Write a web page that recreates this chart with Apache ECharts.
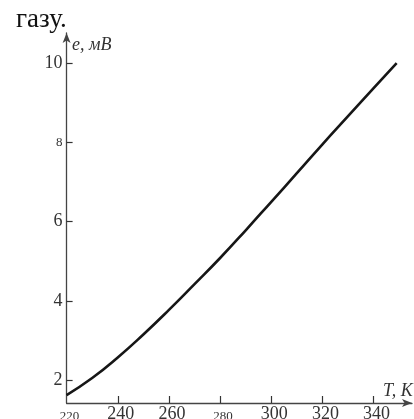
<!DOCTYPE html>
<html>
<head>
<meta charset="utf-8">
<script src="https://cdn.jsdelivr.net/npm/echarts@6/dist/echarts.min.js"></script>
<style>
html,body{margin:0;padding:0;background:#fff;}
#c{width:414px;height:419px;}
</style>
</head>
<body>
<div id="c"></div>
<script>
// Data
const temperatureK = [220, 230, 240, 250, 260, 270, 280, 290, 300, 310, 320, 330, 340, 349];
const emfMillivolt = [1.62, 2.05, 2.57, 3.15, 3.77, 4.42, 5.08, 5.78, 6.50, 7.22, 7.95, 8.66, 9.37, 10.0];
const xTickLabels = [220, 240, 260, 280, 300, 320, 340];
const xTickMarks = [240, 260, 280, 300, 320, 340];
const yTickLabels = [2, 4, 6, 8, 10];
const xAxisName = 'T, K';
const yAxisName = 'e, мВ';
const captionText = 'газу.';

const smallX = [220, 280];
const smallY = [8];
const serif = '"Liberation Serif", "DejaVu Serif", serif';

const chart = echarts.init(document.getElementById('c'), null, {renderer: 'canvas'});
chart.setOption({
  animation: false,
  backgroundColor: '#fff',
  grid: {left: 66.6, right: 2, top: 33, bottom: 16, containLabel: false, outerBoundsMode: 'none'},
  xAxis: {
    type: 'value', min: 220, max: 355,
    axisLine: {show: true, onZero: false, lineStyle: {color: '#444', width: 1.3},
      symbol: ['none', 'arrow'], symbolSize: [6, 10]},
    axisTick: {show: true, inside: true, length: 7, customValues: xTickMarks, lineStyle: {color: '#333', width: 1.2}},
    axisLabel: {
      customValues: xTickLabels, margin: 20, verticalAlign: 'bottom', padding: [0, 0, 0, 6],
      formatter: v => (smallX.indexOf(v) >= 0 ? '{s|' + v + '}' : '{b|' + v + '}'),
      rich: {
        s: {fontFamily: serif, fontSize: 13, color: '#333'},
        b: {fontFamily: serif, fontSize: 18, color: '#333'}
      }
    },
    splitLine: {show: false}
  },
  yAxis: {
    type: 'value', min: 1.42, max: 10.76,
    axisLine: {show: true, onZero: false, lineStyle: {color: '#444', width: 1.3},
      symbol: ['none', 'arrow'], symbolSize: [6, 10]},
    axisTick: {show: true, inside: true, length: 6, customValues: yTickLabels, lineStyle: {color: '#333', width: 1.2}},
    axisLabel: {
      customValues: yTickLabels, margin: 4,
      formatter: v => (smallY.indexOf(v) >= 0 ? '{s|' + v + '}' : '{b|' + v + '}'),
      rich: {
        s: {fontFamily: serif, fontSize: 13, color: '#333'},
        b: {fontFamily: serif, fontSize: 18, color: '#333'}
      }
    },
    splitLine: {show: false}
  },
  graphic: [
    {type: 'text', left: 16, top: 6, style: {text: captionText, font: '27px ' + serif, fill: '#111'}},
    {type: 'text', left: 72, top: 36, style: {text: yAxisName, font: 'italic 18px ' + serif, fill: '#333'}},
    {type: 'text', left: 383, top: 382, style: {text: xAxisName, font: 'italic 18px ' + serif, fill: '#333'}}
  ],
  series: [{
    type: 'line',
    data: temperatureK.map((t, i) => [t, emfMillivolt[i]]),
    smooth: true,
    symbol: 'none',
    lineStyle: {color: '#161616', width: 2.6},
    clip: false
  }]
});
</script>
</body>
</html>
